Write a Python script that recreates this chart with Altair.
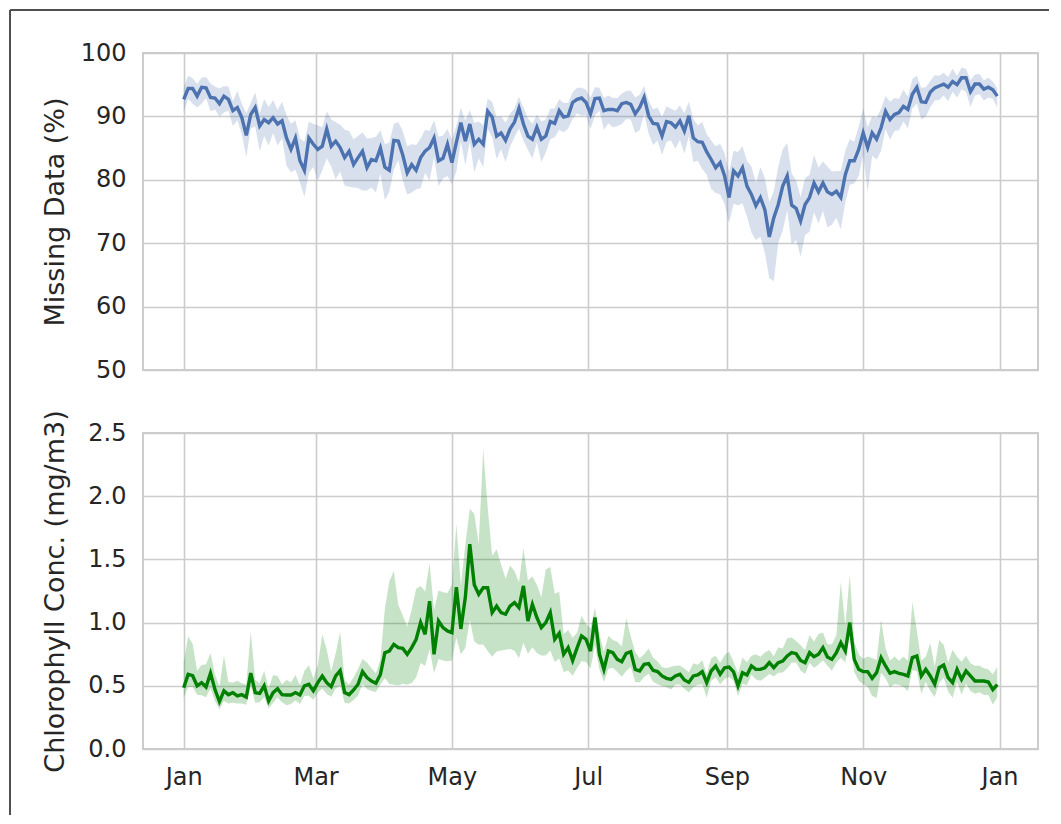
import altair as alt
import pandas as pd

# Dates: one reading every 2 days through the year
dates = pd.date_range("2019-01-01", periods=183, freq="2D").strftime("%Y-%m-%d").tolist()

# Missing data (%) – mean and CI distances
miss_mean = [
    92.7, 94.4, 94.4, 93.2, 94.6, 94.5, 93.0, 92.9, 92.0, 93.2,
    92.7, 90.9, 91.4, 89.8, 87.0, 90.3, 91.4, 88.5, 89.5, 89.0,
    89.8, 88.8, 89.3, 86.6, 84.8, 86.6, 83.0, 81.5, 86.6, 85.6,
    84.8, 85.3, 88.0, 85.3, 86.1, 85.1, 83.5, 84.5, 82.4, 83.5,
    84.5, 81.9, 83.2, 83.0, 85.0, 82.0, 81.5, 86.2, 86.1, 83.9,
    81.1, 82.4, 81.5, 83.5, 84.5, 85.1, 86.6, 83.0, 83.4, 85.6,
    82.7, 85.9, 89.0, 86.1, 88.8, 85.6, 86.4, 85.6, 90.8, 89.9,
    86.9, 87.4, 86.2, 88.0, 89.1, 91.3, 88.8, 86.9, 86.4, 88.3,
    86.4, 86.9, 89.2, 88.9, 90.9, 89.9, 90.1, 92.2, 92.7, 92.9,
    92.2, 90.4, 92.8, 92.9, 90.9, 91.1, 91.1, 90.9, 92.0, 92.2,
    91.9, 90.4, 91.4, 93.0, 90.1, 88.9, 88.8, 86.9, 89.2, 89.0,
    88.3, 89.3, 87.7, 90.1, 86.6, 86.0, 85.9, 84.4, 83.2, 81.9,
    82.7, 80.6, 77.2, 81.4, 80.6, 81.9, 79.0, 77.7, 75.9, 77.2,
    75.3, 71.0, 74.0, 76.1, 79.0, 80.6, 76.0, 75.5, 73.5, 76.1,
    77.2, 79.5, 78.1, 79.5, 78.1, 77.7, 78.2, 77.2, 80.8, 83.0,
    83.0, 84.8, 87.4, 85.1, 87.4, 86.4, 88.2, 90.8, 89.5, 90.3,
    90.6, 91.6, 91.1, 93.5, 94.6, 92.3, 92.2, 93.8, 94.5, 94.8,
    95.1, 94.6, 95.5, 95.0, 96.1, 96.1, 93.9, 95.1, 95.1, 94.3,
    94.6, 94.2, 93.2,
]
miss_up = [
    1.8, 2.0, 1.6, 1.9, 1.5, 1.7, 2.2, 1.8, 2.4, 1.6,
    2.0, 1.5, 2.6, 2.2, 3.5, 1.8, 2.4, 2.0, 3.2, 2.5,
    2.8, 2.2, 3.0, 3.6, 4.0, 2.8, 3.5, 4.5, 2.6, 3.2,
    3.8, 3.0, 2.8, 4.2, 3.0, 3.6, 4.4, 3.2, 4.0, 3.4,
    3.0, 4.6, 3.4, 3.8, 2.8, 3.6, 4.4, 2.6, 3.0, 3.8,
    4.2, 3.2, 4.0, 3.0, 3.4, 2.6, 2.8, 3.8, 3.6, 2.4,
    3.6, 2.6, 2.4, 3.2, 2.2, 3.4, 2.8, 3.0, 2.0, 2.4,
    3.0, 2.6, 2.8, 2.4, 2.2, 1.8, 2.6, 2.8, 2.4, 2.0,
    2.8, 2.6, 2.0, 2.4, 1.8, 2.2, 2.0, 1.6, 1.8, 1.6,
    2.0, 2.6, 1.8, 1.6, 2.0, 2.2, 1.8, 2.0, 1.6, 1.8,
    2.2, 2.6, 2.0, 1.8, 2.4, 2.2, 2.6, 3.0, 2.4, 2.2,
    2.6, 2.4, 2.8, 2.2, 3.0, 2.6, 3.2, 2.8, 3.0, 3.4,
    3.0, 3.6, 4.0, 3.2, 3.8, 3.4, 4.0, 4.4, 3.6, 4.8,
    5.0, 5.5, 4.2, 6.0, 5.8, 5.2, 5.0, 4.4, 3.8, 4.2,
    3.6, 4.4, 3.8, 3.4, 4.0, 3.6, 3.2, 4.2, 3.8, 3.4,
    3.0, 3.6, 3.8, 3.2, 2.6, 3.4, 3.0, 2.4, 2.8, 2.6,
    2.2, 2.6, 2.0, 2.4, 1.8, 2.2, 2.4, 1.8, 2.0, 1.6,
    1.8, 1.6, 2.0, 1.4, 1.6, 1.4, 1.8, 1.5, 1.6, 1.4,
    1.5, 1.3, 1.2,
]
miss_down = [
    2.0, 1.6, 2.4, 1.8, 2.6, 1.6, 2.2, 1.8, 2.0, 2.6,
    1.8, 2.4, 2.0, 2.6, 3.4, 2.2, 3.0, 4.0, 2.6, 3.6,
    2.4, 3.4, 2.8, 4.4, 3.6, 5.0, 3.4, 4.2, 5.5, 3.6,
    5.0, 3.8, 4.6, 3.2, 6.0, 3.8, 4.4, 5.6, 3.6, 4.8,
    6.2, 3.6, 4.4, 5.0, 4.0, 5.2, 3.4, 4.6, 3.0, 4.0,
    3.4, 4.4, 3.0, 4.8, 3.4, 5.2, 3.0, 4.0, 3.2, 5.0,
    3.4, 4.6, 3.0, 3.8, 2.8, 4.4, 3.0, 3.6, 2.8, 3.2,
    3.6, 2.6, 3.4, 2.8, 2.4, 3.2, 2.6, 2.2, 3.0, 2.4,
    3.6, 2.6, 2.8, 2.2, 3.0, 2.4, 2.0, 2.6, 2.2, 2.8,
    2.0, 2.4, 2.6, 2.0, 3.0, 2.2, 2.8, 2.4, 3.2, 2.6,
    2.4, 3.0, 3.6, 2.6, 2.8, 3.4, 2.6, 3.0, 3.2, 2.8,
    3.4, 3.0, 3.6, 3.2, 3.8, 3.0, 4.2, 3.6, 4.6, 4.0,
    5.0, 4.4, 4.0, 5.2, 4.6, 5.6, 4.8, 6.0, 5.4, 6.2,
    6.8, 6.5, 10.0, 6.0, 7.0, 5.4, 6.2, 5.0, 5.6, 4.8,
    5.4, 4.6, 5.0, 4.4, 5.6, 4.8, 4.2, 5.0, 4.4, 3.8,
    3.6, 4.2, 3.4, 7.0, 3.6, 3.2, 3.6, 2.8, 3.2, 2.6,
    2.8, 2.4, 3.0, 2.2, 2.6, 2.8, 2.2, 2.4, 2.0, 2.2,
    1.8, 2.2, 1.6, 2.0, 1.8, 2.2, 2.4, 1.8, 1.6, 1.8,
    1.6, 1.4, 1.8,
]

# Chlorophyll concentration (mg/m3) – mean and CI distances
chl_mean = [
    0.485, 0.59, 0.58, 0.50, 0.525, 0.49, 0.60, 0.47, 0.375, 0.46,
    0.43, 0.446, 0.42, 0.43, 0.41, 0.60, 0.446, 0.44, 0.50, 0.38,
    0.446, 0.477, 0.43, 0.427, 0.427, 0.446, 0.427, 0.50, 0.512, 0.46,
    0.525, 0.578, 0.525, 0.493, 0.578, 0.62, 0.446, 0.43, 0.467, 0.512,
    0.612, 0.565, 0.538, 0.52, 0.59, 0.762, 0.775, 0.828, 0.802, 0.796,
    0.749, 0.802, 0.868, 1.0, 0.907, 1.17, 0.749, 1.013, 0.96, 0.934,
    0.92, 1.28, 0.95, 1.20, 1.62, 1.30, 1.224, 1.276, 1.276, 1.079,
    1.131, 1.079, 1.066, 1.131, 1.158, 1.118, 1.29, 1.013, 1.145, 1.04,
    0.96, 1.0, 1.079, 0.868, 0.915, 0.749, 0.802, 0.70, 0.80, 0.894,
    0.868, 0.775, 1.04, 0.749, 0.63, 0.775, 0.762, 0.709, 0.691, 0.757,
    0.77, 0.63, 0.617, 0.67, 0.675, 0.622, 0.612, 0.578, 0.559, 0.551,
    0.578, 0.591, 0.546, 0.527, 0.578, 0.586, 0.612, 0.525, 0.617, 0.657,
    0.591, 0.643, 0.649, 0.61, 0.50, 0.604, 0.586, 0.657, 0.63, 0.63,
    0.643, 0.683, 0.643, 0.683, 0.696, 0.736, 0.762, 0.754, 0.701, 0.683,
    0.762, 0.73, 0.749, 0.802, 0.728, 0.709, 0.762, 0.841, 0.775, 1.0,
    0.709, 0.63, 0.612, 0.612, 0.559, 0.604, 0.723, 0.657, 0.599, 0.612,
    0.599, 0.591, 0.578, 0.723, 0.736, 0.578, 0.63, 0.578, 0.512, 0.643,
    0.664, 0.565, 0.525, 0.63, 0.551, 0.617, 0.578, 0.538, 0.538, 0.538,
    0.53, 0.47, 0.51,
]
chl_up = [
    0.20, 0.30, 0.25, 0.12, 0.14, 0.18, 0.16, 0.12, 0.12, 0.28,
    0.10, 0.08, 0.12, 0.09, 0.10, 0.33, 0.10, 0.08, 0.12, 0.10,
    0.14, 0.10, 0.08, 0.12, 0.10, 0.14, 0.08, 0.12, 0.15, 0.10,
    0.14, 0.33, 0.26, 0.12, 0.18, 0.31, 0.10, 0.08, 0.10, 0.12,
    0.10, 0.12, 0.10, 0.08, 0.12, 0.35, 0.55, 0.58, 0.34, 0.26,
    0.22, 0.30, 0.40, 0.29, 0.34, 0.30, 0.35, 0.24, 0.28, 0.30,
    0.38, 0.50, 0.35, 0.42, 0.28, 0.56, 0.40, 1.10, 0.64, 0.45,
    0.45, 0.38, 0.28, 0.32, 0.25, 0.20, 0.30, 0.32, 0.22, 0.26,
    0.24, 0.42, 0.36, 0.36, 0.33, 0.16, 0.14, 0.18, 0.12, 0.16,
    0.12, 0.18, 0.08, 0.16, 0.14, 0.12, 0.10, 0.14, 0.12, 0.28,
    0.12, 0.14, 0.10, 0.08, 0.12, 0.10, 0.08, 0.07, 0.08, 0.10,
    0.08, 0.07, 0.09, 0.08, 0.10, 0.08, 0.09, 0.07, 0.10, 0.08,
    0.09, 0.10, 0.12, 0.08, 0.10, 0.12, 0.10, 0.08, 0.12, 0.10,
    0.12, 0.10, 0.09, 0.12, 0.10, 0.14, 0.12, 0.10, 0.12, 0.10,
    0.14, 0.12, 0.16, 0.12, 0.10, 0.12, 0.14, 0.48, 0.20, 0.38,
    0.14, 0.12, 0.10, 0.12, 0.16, 0.10, 0.30, 0.14, 0.10, 0.12,
    0.10, 0.14, 0.12, 0.44, 0.20, 0.12, 0.10, 0.26, 0.14, 0.22,
    0.16, 0.12, 0.26, 0.10, 0.14, 0.12, 0.10, 0.12, 0.12, 0.10,
    0.10, 0.12, 0.14,
]
chl_down = [
    0.08, 0.10, 0.09, 0.07, 0.10, 0.08, 0.12, 0.09, 0.06, 0.08,
    0.07, 0.08, 0.06, 0.07, 0.06, 0.10, 0.08, 0.07, 0.09, 0.06,
    0.08, 0.07, 0.06, 0.08, 0.07, 0.06, 0.07, 0.08, 0.09, 0.07,
    0.08, 0.10, 0.09, 0.08, 0.10, 0.12, 0.08, 0.07, 0.08, 0.09,
    0.10, 0.09, 0.08, 0.07, 0.08, 0.20, 0.26, 0.32, 0.30, 0.28,
    0.24, 0.28, 0.30, 0.32, 0.25, 0.38, 0.15, 0.30, 0.26, 0.24,
    0.22, 0.40, 0.20, 0.40, 0.60, 0.45, 0.40, 0.45, 0.50, 0.35,
    0.36, 0.30, 0.28, 0.34, 0.38, 0.40, 0.45, 0.26, 0.34, 0.28,
    0.22, 0.26, 0.30, 0.18, 0.20, 0.14, 0.18, 0.12, 0.16, 0.20,
    0.18, 0.14, 0.22, 0.12, 0.10, 0.14, 0.12, 0.10, 0.12, 0.14,
    0.12, 0.10, 0.09, 0.10, 0.08, 0.09, 0.10, 0.08, 0.07, 0.08,
    0.07, 0.08, 0.07, 0.08, 0.09, 0.08, 0.10, 0.12, 0.08, 0.09,
    0.08, 0.09, 0.08, 0.07, 0.08, 0.09, 0.08, 0.07, 0.08, 0.09,
    0.08, 0.09, 0.07, 0.08, 0.09, 0.10, 0.08, 0.07, 0.08, 0.09,
    0.08, 0.09, 0.08, 0.10, 0.07, 0.09, 0.08, 0.12, 0.09, 0.10,
    0.10, 0.09, 0.10, 0.12, 0.14, 0.20, 0.12, 0.10, 0.11, 0.10,
    0.09, 0.10, 0.12, 0.10, 0.12, 0.14, 0.10, 0.12, 0.10, 0.12,
    0.10, 0.11, 0.12, 0.10, 0.12, 0.10, 0.12, 0.10, 0.09, 0.11,
    0.10, 0.12, 0.10,
]

miss_ticks = [50, 60, 70, 80, 90, 100]
chl_ticks = [0.0, 0.5, 1.0, 1.5, 2.0, 2.5]

miss_df = pd.DataFrame({
    "date": dates,
    "mean": miss_mean,
    "lo": [m - d for m, d in zip(miss_mean, miss_down)],
    "hi": [m + u for m, u in zip(miss_mean, miss_up)],
})
chl_df = pd.DataFrame({
    "date": dates,
    "mean": chl_mean,
    "lo": [m - d for m, d in zip(chl_mean, chl_down)],
    "hi": [m + u for m, u in zip(chl_mean, chl_up)],
})

xdomain = [
    alt.DateTime(year=2018, month=12, date=13, hours=19, utc=True),
    alt.DateTime(year=2020, month=1, date=18, hours=5, utc=True),
]
xticks = [alt.DateTime(year=2019, month=m, date=1, utc=True) for m in (1, 3, 5, 7, 9, 11)] + [
    alt.DateTime(year=2020, month=1, date=1, utc=True)
]
xscale = alt.Scale(type="utc", domain=xdomain)

W, H1, H2 = 895, 317, 316
FRAME = "#505050"


def panel(df, color, ydom, yticks, ytitle, fmt, show_x):
    if show_x:
        xaxis = alt.Axis(values=xticks, format="%b", title=None, labelPadding=16,
                         grid=True)
    else:
        xaxis = alt.Axis(values=xticks, labels=False, title=None, grid=True,
                         minExtent=0, maxExtent=0)
    yaxis = alt.Axis(values=yticks, format=fmt, title=ytitle, labelPadding=17,
                     minExtent=62, maxExtent=62, titlePadding=12)
    yscale = alt.Scale(domain=ydom, nice=False, zero=False)
    band = alt.Chart(df).mark_area(color=color, opacity=0.22).encode(
        x=alt.X("date:T", scale=xscale, axis=xaxis),
        y=alt.Y("lo:Q", scale=yscale, axis=yaxis),
        y2="hi:Q",
    )
    line = alt.Chart(df).mark_line(color=color, strokeWidth=3.4).encode(
        x=alt.X("date:T", scale=xscale, axis=xaxis),
        y=alt.Y("mean:Q", scale=yscale, axis=yaxis),
    )
    return band + line


# figure border (outer frame of the figure canvas, top and left edges)
one = pd.DataFrame({"k": [0]})
frame_v = alt.Chart(one).mark_rule(color=FRAME, strokeWidth=2).encode(
    x=alt.value(-133), y=alt.value(-43), y2=alt.value(762)
)
frame_h = alt.Chart(one).mark_rule(color=FRAME, strokeWidth=2).encode(
    x=alt.value(-133), x2=alt.value(906), y=alt.value(-43)
)

top = alt.layer(
    panel(miss_df, "#4C72B0", [50, 100], miss_ticks, "Missing Data (%)", "d", False),
    frame_v, frame_h,
).properties(width=W, height=H1)
bottom = panel(chl_df, "green", [0, 2.5], chl_ticks, "Chlorophyll Conc. (mg/m3)", ".1f", True).properties(
    width=W, height=H2
)

chart = alt.vconcat(top, bottom, spacing=63, bounds="flush").properties(
    padding={"top": 0, "left": 0, "right": 0, "bottom": 0},
    background="white",
).configure_view(
    stroke="#cccccc", strokeWidth=2
).configure_axis(
    labelFont="DejaVu Sans", titleFont="DejaVu Sans",
    labelFontSize=24, titleFontSize=27,
    labelColor="#262626", titleColor="#262626", titleFontWeight="normal",
    gridColor="#cccccc", gridWidth=1.6, domain=False, ticks=False,
)

chart.save("out.html", embed_options={"renderer": "svg", "actions": False})
